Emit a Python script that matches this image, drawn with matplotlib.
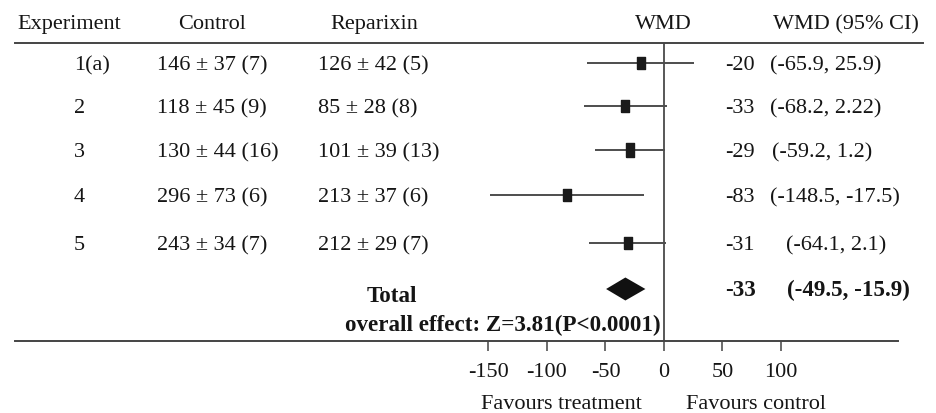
import matplotlib
matplotlib.use('Agg')
import matplotlib.pyplot as plt

plt.rcParams['font.family'] = 'Liberation Serif'
plt.rcParams['axes.unicode_minus'] = False

# study data
experiments = ['1(a)', '2', '3', '4', '5']
control_mean = [146, 118, 130, 296, 243]
control_sd = [37, 45, 44, 73, 34]
control_n = [7, 9, 16, 6, 7]
repar_mean = [126, 85, 101, 213, 212]
repar_sd = [42, 28, 39, 37, 29]
repar_n = [5, 8, 13, 6, 7]
wmd = [-20, -33, -29, -83, -31]
ci_lo = [-65.9, -68.2, -59.2, -148.5, -64.1]
ci_hi = [25.9, 2.22, 1.2, -17.5, 2.1]
total_wmd = -33
total_lo = -49.5
total_hi = -15.9
xticks = [-150, -100, -50, 0, 50, 100]

# layout (pixels of a 937x413 figure)
W, H = 937, 413
row_y = [63, 106, 150, 195, 243]
total_y = 289
ci_x = [770, 770, 772, 770, 786]
box_ms = [8.4, 8.4, 9.4, 8.4, 8.8]
fs = 16
txt = '#151515'

fig = plt.figure(figsize=(W / 100, H / 100), dpi=100)
ax = fig.add_axes([15 / W, (H - 341) / H, (923 - 15) / W, (341 - 43) / H])
scale = 1.17  # px per unit
zero = 664
ax.set_xlim((15 - zero) / scale, (923 - zero) / scale)
ax.set_ylim(341, 43)

for s in ['left', 'right']:
    ax.spines[s].set_visible(False)
ax.spines['top'].set_color('#444')
ax.spines['top'].set_linewidth(1.4)
ax.spines['bottom'].set_color('#444')
ax.spines['bottom'].set_linewidth(1.4)
ax.spines['bottom'].set_bounds(ax.get_xlim()[0], (898 - zero) / scale)
ax.set_yticks([])
ax.set_xticks(xticks)
ax.set_xticklabels([str(t) for t in xticks])
ax.tick_params(axis='x', length=7.5, width=1.1, color='#444', pad=8,
               labelsize=fs, labelcolor=txt)

ax.axvline(0, color='#2a2a2a', lw=1.1)

rect = [(-0.31, -0.5), (0.31, -0.5), (0.31, 0.5), (-0.31, 0.5), (-0.31, -0.5)]
ax.hlines(row_y, ci_lo, ci_hi, color='#4d4d4d', lw=1.4)
for i in range(len(wmd)):
    ax.plot(wmd[i], row_y[i], marker=rect, ms=box_ms[i], color='#1a1a1a',
            mec='#1a1a1a')
ax.fill([total_lo, total_wmd, total_hi, total_wmd],
        [total_y, total_y - 11.5, total_y, total_y + 11.5], color='#111', lw=0)


def put(x, y, s, ha='left', bold=False):
    fig.text(x / W, 1 - y / H, s, ha=ha, va='baseline',
             fontsize=fs + 0.6 if bold else fs,
             fontweight='bold' if bold else 'normal', color=txt)


# header
put(17, 29, 'Experiment')
put(212, 29, 'Control', ha='center')
put(374, 29, 'Reparixin', ha='center')
put(663, 29, 'WMD', ha='center')
put(773, 29, 'WMD (95% CI)')

for i in range(len(experiments)):
    b = row_y[i] + 7
    put(74, b, experiments[i])
    put(157, b, f'{control_mean[i]} ± {control_sd[i]} ({control_n[i]})')
    put(318, b, f'{repar_mean[i]} ± {repar_sd[i]} ({repar_n[i]})')
    put(755, b, f'{wmd[i]:g}', ha='right')
    put(ci_x[i], b, f'({ci_lo[i]:g}, {ci_hi[i]:g})')

put(367, 302, 'Total', bold=True)
put(661, 331, 'overall effect: Z=3.81(P<0.0001)', ha='right', bold=True)
put(756, 296, f'{total_wmd:g}', ha='right', bold=True)
put(787, 296, f'({total_lo:g}, {total_hi:g})', bold=True)

put(561, 409, 'Favours treatment', ha='center')
put(756, 409, 'Favours control', ha='center')

fig.savefig('out.png', dpi=100)
